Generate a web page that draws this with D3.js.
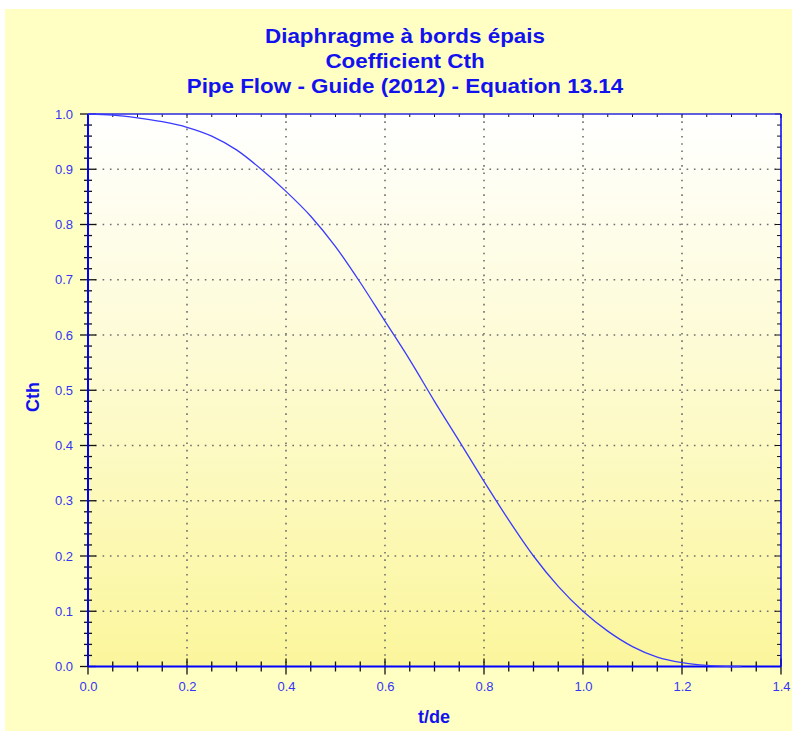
<!DOCTYPE html>
<html>
<head>
<meta charset="utf-8">
<script src="https://cdn.jsdelivr.net/npm/d3@7"></script>
<style>
html,body{margin:0;padding:0;background:#ffffff;}
svg{display:block;}
text{font-family:"Liberation Sans",Arial,sans-serif;}
</style>
</head>
<body>
<svg id="chart" width="792" height="731"></svg>
<script>
// ---- data ----
const titleLines = ["Diaphragme à bords épais", "Coefficient Cth", "Pipe Flow - Guide (2012) - Equation 13.14"];
const xLabel = "t/de";
const yLabel = "Cth";
const tdValues = [0, 0.05, 0.1, 0.15, 0.2, 0.25, 0.3, 0.35, 0.4, 0.45, 0.5, 0.55, 0.6, 0.65, 0.7, 0.75, 0.8, 0.85, 0.9, 0.95, 1.0, 1.05, 1.1, 1.15, 1.2, 1.25, 1.3, 1.32];
const cthValues = [1.0, 0.998, 0.993, 0.986, 0.976, 0.96, 0.935, 0.9, 0.86, 0.815, 0.76, 0.695, 0.625, 0.555, 0.48, 0.408, 0.335, 0.265, 0.2, 0.145, 0.1, 0.064, 0.036, 0.017, 0.007, 0.002, 0.0, 0.0];
const xTicks = [0, 0.2, 0.4, 0.6, 0.8, 1.0, 1.2, 1.4];
const yTicks = [0, 0.1, 0.2, 0.3, 0.4, 0.5, 0.6, 0.7, 0.8, 0.9, 1.0];

// ---- layout ----
const L = 88, R = 781, T = 114, B = 666.5;
const svg = d3.select("#chart");
const x = d3.scaleLinear().domain([0, 1.4]).range([L, R]);
const y = d3.scaleLinear().domain([0, 1.0]).range([B, T]);

const defs = svg.append("defs");
const grad = defs.append("linearGradient").attr("id", "plotGrad")
  .attr("x1", 0).attr("y1", 0).attr("x2", 0).attr("y2", 1);
grad.append("stop").attr("offset", "0%").attr("stop-color", "#ffffff");
grad.append("stop").attr("offset", "100%").attr("stop-color", "#fbf69c");

// outer background
svg.append("rect").attr("x", 5).attr("y", 9).attr("width", 787).attr("height", 722).attr("fill", "#ffffc4");
// plot background
svg.append("rect").attr("x", L).attr("y", T).attr("width", R - L).attr("height", B - T).attr("fill", "url(#plotGrad)");

// grid
const grid = svg.append("g").attr("stroke", "#6e6e6e").attr("stroke-width", 1.6).attr("stroke-dasharray", "1.6,5.7");
xTicks.slice(1, -1).forEach(v => grid.append("line").attr("x1", x(v)).attr("x2", x(v)).attr("y1", T).attr("y2", B));
yTicks.slice(1, -1).forEach(v => grid.append("line").attr("x1", L).attr("x2", R).attr("y1", y(v)).attr("y2", y(v)));

const xMinor = d3.range(0, 1.4001, 0.05);
const yMinor = d3.range(0, 1.0001, 0.02);

const tk = svg.append("g").attr("stroke", "#111").attr("stroke-width", 1.3);
xMinor.forEach(v => {
  const major = Math.abs(v * 5 - Math.round(v * 5)) < 1e-6;
  tk.append("line").attr("x1", x(v)).attr("x2", x(v)).attr("y1", B - (major ? 8 : 5)).attr("y2", B + (major ? 8 : 5));
  tk.append("line").attr("x1", x(v)).attr("x2", x(v)).attr("y1", T).attr("y2", T + (major ? 4 : 3)).attr("stroke-width", 1);
});
yMinor.forEach(v => {
  const major = Math.abs(v * 10 - Math.round(v * 10)) < 1e-6;
  tk.append("line").attr("y1", y(v)).attr("y2", y(v)).attr("x1", L - (major ? 8 : 4)).attr("x2", L + (major ? 8 : 4));
  tk.append("line").attr("y1", y(v)).attr("y2", y(v)).attr("x1", R).attr("x2", R - (major ? 6 : 4)).attr("stroke-width", 1);
});

// frame
svg.append("line").attr("x1", L).attr("x2", R).attr("y1", T).attr("y2", T).attr("stroke", "#2a2ae0").attr("stroke-width", 1.5);
svg.append("line").attr("x1", R).attr("x2", R).attr("y1", T).attr("y2", B).attr("stroke", "#0000ff").attr("stroke-width", 1.5);
svg.append("line").attr("x1", L).attr("x2", R).attr("y1", B).attr("y2", B).attr("stroke", "#0000ff").attr("stroke-width", 2);
svg.append("line").attr("x1", L).attr("x2", L).attr("y1", T).attr("y2", B).attr("stroke", "#0000ff").attr("stroke-width", 2);

const xAxis = svg.append("g").attr("transform", `translate(0,${B})`)
  .call(d3.axisBottom(x).tickValues(xTicks).tickFormat(d3.format(".1f")).tickSize(0).tickPadding(15));
const yAxis = svg.append("g").attr("transform", `translate(${L},0)`)
  .call(d3.axisLeft(y).tickValues(yTicks).tickFormat(d3.format(".1f")).tickSize(0).tickPadding(15));
[xAxis, yAxis].forEach(a => {
  a.select(".domain").remove();
  a.selectAll("text").attr("fill", "#3535f5").attr("font-size", 13)
    .attr("font-family", "'Liberation Sans', Arial, sans-serif");
});

// curve
const pts = tdValues.map((t, i) => [t, cthValues[i]]);
svg.append("path").datum(pts)
  .attr("fill", "none").attr("stroke", "#3a3aff").attr("stroke-width", 1.3)
  .attr("d", d3.line().x(d => x(d[0])).y(d => y(d[1])).curve(d3.curveMonotoneX));

// titles
titleLines.forEach((s, i) => {
  svg.append("text").attr("x", 405).attr("y", 43 + i * 25).attr("text-anchor", "middle")
    .attr("font-size", 20).attr("font-weight", "bold").attr("fill", "#1212ee")
    .attr("transform", `translate(405,0) scale(1.12,1) translate(-405,0)`).text(s);
});
svg.append("text").attr("x", 434).attr("y", 723).attr("text-anchor", "middle")
  .attr("font-size", 18).attr("font-weight", "bold").attr("fill", "#1212ee").text(xLabel);
svg.append("text").attr("transform", "translate(39,397) rotate(-90)").attr("text-anchor", "middle")
  .attr("font-size", 18).attr("font-weight", "bold").attr("fill", "#1212ee").text(yLabel);
</script>
</body>
</html>
